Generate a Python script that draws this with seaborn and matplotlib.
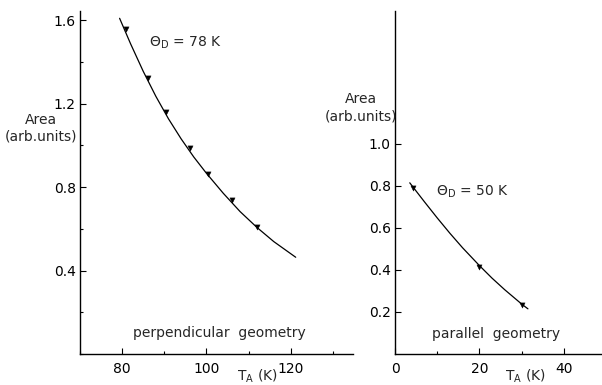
import matplotlib
matplotlib.use("Agg")
import matplotlib.pyplot as plt
import seaborn as sns
from matplotlib.ticker import MultipleLocator

# ---- data ----
perp_T = [81.0, 86.1, 90.3, 96.1, 100.3, 106.1, 111.9]
perp_A = [1.56, 1.324, 1.163, 0.990, 0.863, 0.739, 0.608]
perp_fit_T = [79.4, 82.0, 85.0, 88.0, 91.0, 94.0, 97.0, 100.0, 104.0, 108.0, 112.0, 116.0, 121.2]
perp_fit_A = [1.610, 1.488, 1.356, 1.236, 1.128, 1.032, 0.945, 0.867, 0.771, 0.683, 0.607, 0.539, 0.464]

par_T = [4.3, 19.9, 30.0]
par_A = [0.789, 0.416, 0.233]
par_fit_T = [3.5, 4.3, 7.0, 10.0, 13.0, 16.0, 20.0, 23.0, 26.0, 30.0, 31.5]
par_fit_A = [0.815, 0.794, 0.724, 0.648, 0.575, 0.506, 0.421, 0.361, 0.306, 0.238, 0.215]

left_yticks = [0.4, 0.8, 1.2, 1.6]
left_xticks = [80, 100, 120]
right_yticks = [0.2, 0.4, 0.6, 0.8, 1.0]
right_xticks = [0, 20, 40]

sns.set_style("ticks")
plt.rcParams["font.family"] = ["DejaVu Sans"]
plt.rcParams["font.size"] = 10

W, H = 602, 385
fig = plt.figure(figsize=(W / 100, H / 100), dpi=100)

def px_axes(x0, x1, ytop, ybot):
    return fig.add_axes([x0 / W, (H - ybot) / H, (x1 - x0) / W, (ybot - ytop) / H])

axL = px_axes(80, 353, 11, 354)
axR = px_axes(395, 602, 11, 354)

def style(ax):
    for s in ["top", "right"]:
        ax.spines[s].set_visible(False)
    for s in ["left", "bottom"]:
        ax.spines[s].set_linewidth(1.0)
        ax.spines[s].set_color("black")
    ax.tick_params(which="major", direction="in", length=4.5, width=0.8,
                   colors="black", labelsize=10)
    ax.tick_params(which="minor", direction="in", length=2.5, width=0.8, colors="black")
    ax.tick_params(axis="x", which="major", pad=6)
    ax.tick_params(axis="y", which="major", pad=3)
    ax.set_xlabel("")
    ax.set_ylabel("")
    ax.set_facecolor("white")

# left panel
sns.lineplot(x=perp_fit_T, y=perp_fit_A, ax=axL, color="black", linewidth=0.9, sort=True)
sns.scatterplot(x=perp_T, y=perp_A, ax=axL, marker="v", color="black", s=14, edgecolor="black")
axL.set_xlim(70, 134.8)
axL.set_ylim(0, 1.645)
axL.set_xticks(left_xticks)
axL.set_yticks(left_yticks)
axL.set_yticklabels([f"{v:.1f}" for v in left_yticks])
axL.xaxis.set_minor_locator(MultipleLocator(10))
axL.yaxis.set_minor_locator(MultipleLocator(0.2))
style(axL)

# right panel
sns.lineplot(x=par_fit_T, y=par_fit_A, ax=axR, color="black", linewidth=0.9, sort=True)
sns.scatterplot(x=par_T, y=par_A, ax=axR, marker="v", color="black", s=14, edgecolor="black")
axR.set_xlim(0, 49.05)
axR.set_ylim(0, 1.633)
axR.set_xticks(right_xticks)
axR.set_yticks(right_yticks)
axR.set_yticklabels([f"{v:.1f}" for v in right_yticks])
axR.xaxis.set_minor_locator(MultipleLocator(10))
style(axR)

def ftext(x, y, s, **kw):
    fig.text(x / W, 1 - y / H, s, **kw)

# annotations
ftext(149, 43, r"$\Theta_\mathrm{D}$ = 78 K", ha="left", va="center", fontsize=10)
ftext(436, 192, r"$\Theta_\mathrm{D}$ = 50 K", ha="left", va="center", fontsize=10)
ftext(219, 333, "perpendicular  geometry", ha="center", va="center", fontsize=10)
ftext(496, 334, "parallel  geometry", ha="center", va="center", fontsize=10)

# y-axis titles
ftext(41, 120, "Area", ha="center", va="center", fontsize=10)
ftext(41, 136, "(arb.units)", ha="center", va="center", fontsize=10)
ftext(361, 99, "Area", ha="center", va="center", fontsize=10)
ftext(361, 116, "(arb.units)", ha="center", va="center", fontsize=10)

# x-axis titles
ftext(257, 376, r"T$_\mathrm{A}$ (K)", ha="center", va="center", fontsize=10)
ftext(525, 376, r"T$_\mathrm{A}$ (K)", ha="center", va="center", fontsize=10)

fig.savefig("out.png", dpi=100)
